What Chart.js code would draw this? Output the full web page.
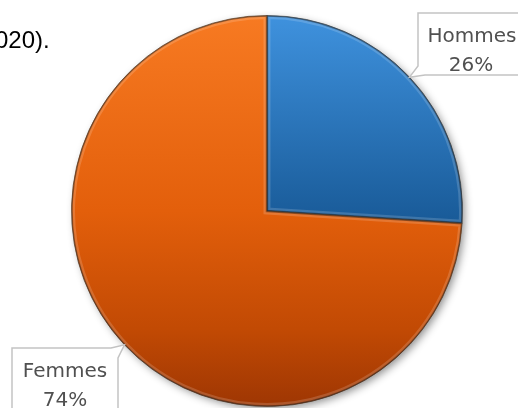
<!DOCTYPE html>
<html>
<head>
<meta charset="utf-8">
<script src="https://cdn.jsdelivr.net/npm/chart.js@4.4.0/dist/chart.umd.min.js"></script>
<style>
  html, body { margin: 0; padding: 0; background: #fff; }
  #wrap { width: 518px; height: 408px; position: relative; overflow: hidden; }
</style>
</head>
<body>
<div id="wrap"><canvas id="pieChart" width="518" height="408"></canvas></div>
<script>
const labels = ['Hommes', 'Femmes'];
const values = [26, 74];
const captionText = '020).';

// callout boxes: [left, top, width, height]
const calloutBoxes = [
  [418, 13, 110, 62],
  [12, 348, 106, 70]
];

function sliceGradient(ctx, area, i) {
  if (!area) return i === 0 ? '#2a70b8' : '#e2600c';
  const g = ctx.createLinearGradient(0, area.top, 0, area.bottom);
  if (i === 0) {
    g.addColorStop(0, '#3f92de');
    g.addColorStop(0.55, '#175895');
    g.addColorStop(1, '#0f4577');
  } else {
    g.addColorStop(0, '#f77a22');
    g.addColorStop(0.5, '#e35f0b');
    g.addColorStop(0.8, '#c24a04');
    g.addColorStop(1, '#9e3603');
  }
  return g;
}

// soft drop shadow under the whole disc
const pieShadow = {
  id: 'pieShadow',
  beforeDatasetsDraw(chart) {
    const arc = chart.getDatasetMeta(0).data[0];
    if (!arc) return;
    const c = chart.ctx;
    c.save();
    c.shadowColor = 'rgba(0,0,0,0.45)';
    c.shadowBlur = 9;
    c.shadowOffsetX = 3;
    c.shadowOffsetY = 3;
    c.fillStyle = '#888';
    c.beginPath();
    c.arc(arc.x, arc.y, arc.outerRadius - 1, 0, Math.PI * 2);
    c.fill();
    c.restore();
  }
};

// inner bevel highlight along each slice edge
const bevel = {
  id: 'bevel',
  afterDatasetsDraw(chart) {
    const c = chart.ctx;
    chart.getDatasetMeta(0).data.forEach(arc => {
      const path = () => {
        c.beginPath();
        c.moveTo(arc.x, arc.y);
        c.arc(arc.x, arc.y, arc.outerRadius, arc.startAngle, arc.endAngle);
        c.closePath();
      };
      c.save();
      path();
      c.clip();
      path();
      c.lineWidth = 7;
      c.strokeStyle = 'rgba(255,255,255,0.16)';
      c.stroke();
      path();
      c.lineWidth = 2.5;
      c.strokeStyle = 'rgba(0,0,0,0.35)';
      c.stroke();
      c.restore();
    });
  }
};

// caption and labelled callouts
const callouts = {
  id: 'callouts',
  afterDraw(chart) {
    const c = chart.ctx;
    c.save();
    c.fillStyle = '#000';
    c.font = '24px "Liberation Sans", sans-serif';
    c.textAlign = 'left';
    c.textBaseline = 'alphabetic';
    c.fillText(captionText, -5, 48);

    const total = values.reduce((a, b) => a + b, 0);
    chart.getDatasetMeta(0).data.forEach((arc, i) => {
      const mid = (arc.startAngle + arc.endAngle) / 2;
      const px = arc.x + Math.cos(mid) * arc.outerRadius;
      const py = arc.y + Math.sin(mid) * arc.outerRadius;
      const [bx, by, bw, bh] = calloutBoxes[i];

      c.beginPath();
      if (i === 0) {
        c.moveTo(bx, by);
        c.lineTo(bx + bw, by);
        c.lineTo(bx + bw, by + bh);
        c.lineTo(bx + 7, by + bh);
        c.lineTo(px, py);
        c.lineTo(bx, by + bh - 9);
      } else {
        c.moveTo(bx, by);
        c.lineTo(bx + bw - 7, by);
        c.lineTo(px, py);
        c.lineTo(bx + bw, by + 10);
        c.lineTo(bx + bw, by + bh);
        c.lineTo(bx, by + bh);
      }
      c.closePath();
      c.fillStyle = '#fff';
      c.fill();
      c.lineWidth = 1.5;
      c.strokeStyle = '#c3c3c3';
      c.stroke();

      const cx = bx + bw / 2 - (i === 0 ? 1 : 0);
      c.fillStyle = '#505050';
      c.font = '20px "DejaVu Sans", sans-serif';
      c.textAlign = 'center';
      const pct = Math.round(values[i] / total * 100) + '%';
      c.fillText(labels[i], i === 0 ? 472 : cx, by + 29);
      c.fillText(pct, i === 0 ? 471 : cx, by + 58);
    });
    c.restore();
  }
};

const ctx = document.getElementById('pieChart').getContext('2d');
new Chart(ctx, {
  type: 'pie',
  data: {
    labels: labels,
    datasets: [{
      data: values,
      backgroundColor: (context) => sliceGradient(context.chart.ctx, context.chart.chartArea, context.dataIndex),
      borderColor: 'rgba(40,25,10,0.55)',
      borderWidth: 1
    }]
  },
  options: {
    responsive: false,
    animation: false,
    layout: { padding: { left: 71, right: 55, top: 15, bottom: 1 } },
    plugins: {
      legend: { display: false },
      tooltip: { enabled: false },
      title: { display: false }
    }
  },
  plugins: [pieShadow, bevel, callouts]
});
</script>
</body>
</html>
